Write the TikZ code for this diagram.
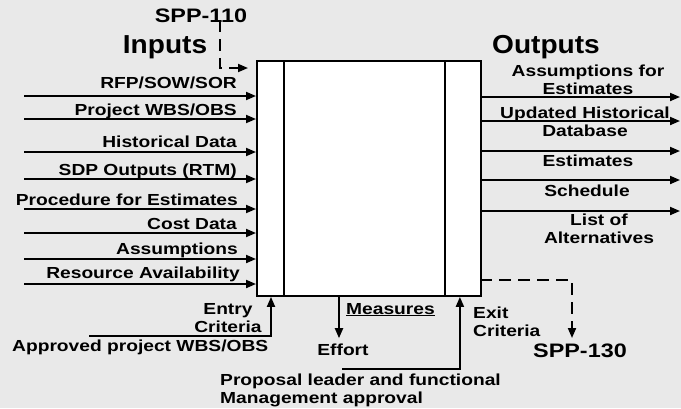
\documentclass[tikz,border=0pt]{standalone}
\usepackage{fontspec}
\usetikzlibrary{arrows.meta}
\newfontfamily\lblfont{Liberation Sans}[FakeStretch=1.2]
\newfontfamily\ttlfont{Liberation Sans}[FakeStretch=1.08]
\definecolor{bgray}{RGB}{233,233,233}
\newcommand{\twoc}[2]{\begin{tabular}[t]{@{}c@{}}#1\\#2\end{tabular}}
\newcommand{\twol}[2]{\begin{tabular}[t]{@{}l@{}}#1\\#2\end{tabular}}

\begin{document}
\begin{tikzpicture}[x=1pt,y=-1pt,
  lbl/.style={font=\lblfont\bfseries\fontsize{16}{18.5}\selectfont, inner sep=0pt},
  ttl/.style={font=\ttlfont\bfseries\fontsize{26}{30}\selectfont, inner sep=0pt},
  spp/.style={font=\lblfont\bfseries\fontsize{19.5}{22}\selectfont, inner sep=0pt},
  flow/.style={line width=1.9pt, -{Triangle[length=10pt,width=8pt]}},
  ctl/.style={flow, dash pattern=on 12pt off 7pt},
]
% canvas
\fill[bgray] (0,0) rectangle (681,408);
\useasboundingbox (0,0) rectangle (681,408);

% process box with entry and exit panels
\node[draw, fill=white, line width=1.9pt, minimum width=224pt, minimum height=235pt,
      inner sep=0pt, anchor=north west] (proc) at (256,60) {};
\draw[line width=1.9pt] ([xshift=28pt]proc.north west) -- ([xshift=28pt]proc.south west);
\draw[line width=1.9pt] ([xshift=-37pt]proc.north east) -- ([xshift=-37pt]proc.south east);

% titles
\node[ttl, anchor=base] (tin) at (165,53) {Inputs};
\node[ttl, anchor=base] (tout) at (546,53) {Outputs};

% SPP-110 control
\node[spp, anchor=base] (spp1) at (201,22) {SPP-110};
\coordinate (c110) at (220,20);
\coordinate (c110e) at (248,68);
\draw[ctl] (c110) |- (c110e);

% inputs
\coordinate (i1) at (24,96);
\coordinate (i2) at (24,119);
\coordinate (i3) at (24,152);
\coordinate (i4) at (24,179);
\coordinate (i5) at (24,209);
\coordinate (i6) at (24,233);
\coordinate (i7) at (24,259);
\coordinate (i8) at (24,284);
\foreach \k in {1,...,8} \draw[flow] (i\k) -- (i\k -| proc.west);
\node[lbl, anchor=base east] (l1) at (237,88) {RFP/SOW/SOR};
\node[lbl, anchor=base east] (l2) at (237,115) {Project WBS/OBS};
\node[lbl, anchor=base east] (l3) at (237,147) {Historical Data};
\node[lbl, anchor=base east] (l4) at (237,175) {SDP Outputs (RTM)};
\node[lbl, anchor=base east] (l5) at (238,205) {Procedure for Estimates};
\node[lbl, anchor=base east] (l6) at (237,229) {Cost Data};
\node[lbl, anchor=base east] (l7) at (238,254) {Assumptions};
\node[lbl, anchor=base east] (l8) at (240,278) {Resource Availability};

% outputs
\coordinate (o1) at (680,97);
\coordinate (o2) at (680,121);
\coordinate (o3) at (680,151);
\coordinate (o4) at (680,180);
\coordinate (o5) at (680,211);
\foreach \k in {1,...,5} \draw[flow] (o\k -| proc.east) -- (o\k);
\node[lbl, anchor=base] (r1) at (588,76) {\twoc{Assumptions for}{Estimates}};
\node[lbl, anchor=base] (r2) at (585,118) {\twoc{Updated Historical}{Database}};
\node[lbl, anchor=base] (r3) at (588,166) {Estimates};
\node[lbl, anchor=base] (r4) at (587,196) {Schedule};
\node[lbl, anchor=base] (r5) at (599,225) {\twoc{List of}{Alternatives}};

% entry criteria
\node[lbl, anchor=base] (entry) at (228,314) {\twoc{Entry}{Criteria}};
\node[lbl, anchor=base west] (appr) at (12,351) {Approved project WBS/OBS};
\coordinate (ec) at (89,336);
\draw[flow] (ec) -| ([xshift=15pt]proc.south west);

% measures
\node[lbl, anchor=base west] (meas) at (346,314) {\underline{Measures}};
\node[lbl, anchor=base] (effort) at (343,355) {Effort};
\draw[flow, shorten >=5pt] ([xshift=83pt]proc.south west) -- ([xshift=83pt]proc.south west |- effort.north);

% approval
\node[lbl, anchor=base west] (prop) at (220,385) {\twol{Proposal leader and functional}{Management approval}};
\coordinate (ap) at (342,369);
\draw[flow] (ap) -| ([xshift=-22pt]proc.south east);

% exit criteria
\node[lbl, anchor=base west] (exit) at (473,318) {\twol{Exit}{Criteria}};
\node[spp, anchor=base] (spp2) at (580,357) {SPP-130};
\coordinate (x130) at (480,280);
\coordinate (x130e) at (572,338);
\draw[ctl] (x130) -| (x130e);
\end{tikzpicture}
\end{document}
